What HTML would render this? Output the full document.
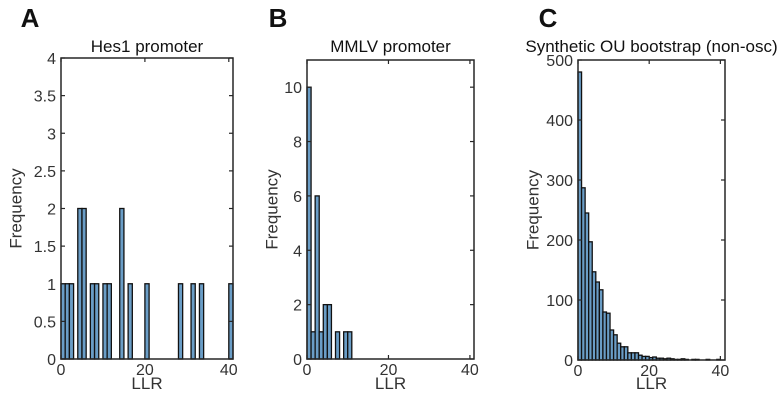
<!DOCTYPE html>
<html><head><meta charset="utf-8"><style>
body{margin:0;background:#fff}
svg{font-family:"Liberation Sans",Arial,sans-serif}
</style></head><body>
<svg id="c" width="782" height="411" viewBox="0 0 782 411"></svg>
<script>
const countsA = [1,1,1,0,2,2,0,1,1,0,1,1,0,0,2,0,1,0,0,0,1,0,0,0,0,0,0,0,1,0,0,1,0,1,0,0,0,0,0,0,1];
const countsB = [10,1,6,1,2,2,0,1,0,1,1];
const countsC = [480,287,245,197,147,130,117,80,78,50,42,28,22,22,12,12,12,8,6,6,4,5,3,3,2,3,2,1,1,2,1,0,1,1,0,0,1,0,0,1];
const xTicks = [0,20,40];
const yTicksA = [0,0.5,1,1.5,2,2.5,3,3.5,4];
const yTicksB = [0,2,4,6,8,10];
const yTicksC = [0,100,200,300,400,500];
const titles = ["Hes1 promoter","MMLV promoter","Synthetic OU bootstrap (non-osc)"];
const letters = ["A","B","C"];

const svg = document.getElementById('c');
const NS = 'http://www.w3.org/2000/svg';
function mk(tag, attrs, parent){const e=document.createElementNS(NS,tag);for(const k in attrs)e.setAttribute(k,attrs[k]);(parent||svg).appendChild(e);return e;}

const panels = [
 {counts:countsA, yt:yTicksA, ymax:4, x0:61, x1:233, y0:58, y1:359, xmax:41, lx:30, ylx:16},
 {counts:countsB, yt:yTicksB, ymax:11, x0:307, x1:474, y0:60, y1:359, xmax:41, lx:278, ylx:272},
 {counts:countsC, yt:yTicksC, ymax:500, x0:578, x1:725, y0:60, y1:360, xmax:41.3, lx:548, ylx:533}
];
panels.forEach((p,i)=>{
  const g = mk('g',{});
  
  
  const sx = v => p.x0 + v/p.xmax*(p.x1-p.x0);
  const sy = v => p.y1 - v/p.ymax*(p.y1-p.y0);
  p.counts.forEach((c,k)=>{
    if(c<=0) return;
    const r = mk('rect',{x:sx(k),y:sy(c),width:sx(k+1)-sx(k),height:p.y1-sy(c),fill:'#6a9dc6',stroke:'#111','stroke-width':1.3},g);
    
    
  });
  const box = mk('rect',{x:p.x0,y:p.y0,width:p.x1-p.x0,height:p.y1-p.y0,fill:'none',stroke:'#262626','stroke-width':1.5},g);
  
  
  xTicks.forEach(t=>{
    const x=sx(t);
    mk('line',{x1:x,x2:x,y1:p.y1,y2:p.y1-4,stroke:'#262626','stroke-width':1.2},g);
    mk('line',{x1:x,x2:x,y1:p.y0,y2:p.y0+4,stroke:'#262626','stroke-width':1.2},g);
    const tx=mk('text',{x:x,y:p.y1+16,'text-anchor':'middle','font-size':16,fill:'#333'},g);
    tx.textContent=t;
    
    
  });
  p.yt.forEach(t=>{
    const y=sy(t);
    mk('line',{x1:p.x0,x2:p.x0+4,y1:y,y2:y,stroke:'#262626','stroke-width':1.2},g);
    mk('line',{x1:p.x1,x2:p.x1-4,y1:y,y2:y,stroke:'#262626','stroke-width':1.2},g);
    const ty=mk('text',{x:p.x0-5,y:y+6,'text-anchor':'end','font-size':16,fill:'#333'},g);
    ty.textContent=t;
    
    
  });
  const xl=mk('text',{x:(p.x0+p.x1)/2,y:389,'text-anchor':'middle','font-size':17,fill:'#333'},g);
  xl.textContent='LLR';
  
  
  const yc=(p.y0+p.y1)/2;
  const yl=mk('text',{x:p.ylx,y:yc,'text-anchor':'middle','font-size':17,fill:'#333',transform:`rotate(-90 ${p.ylx} ${yc})`,'dominant-baseline':'central'},g);
  yl.textContent='Frequency';
  
  
  const tt=mk('text',{x:(p.x0+p.x1)/2,y:52,'text-anchor':'middle','font-size':17,fill:'#111'},g);
  tt.textContent=titles[i];
  
  
  const lt=mk('text',{x:p.lx,y:27,'text-anchor':'middle','font-size':26,'font-weight':'bold',fill:'#111'},g);
  lt.textContent=letters[i];
  
  
});
</script>
</body></html>
